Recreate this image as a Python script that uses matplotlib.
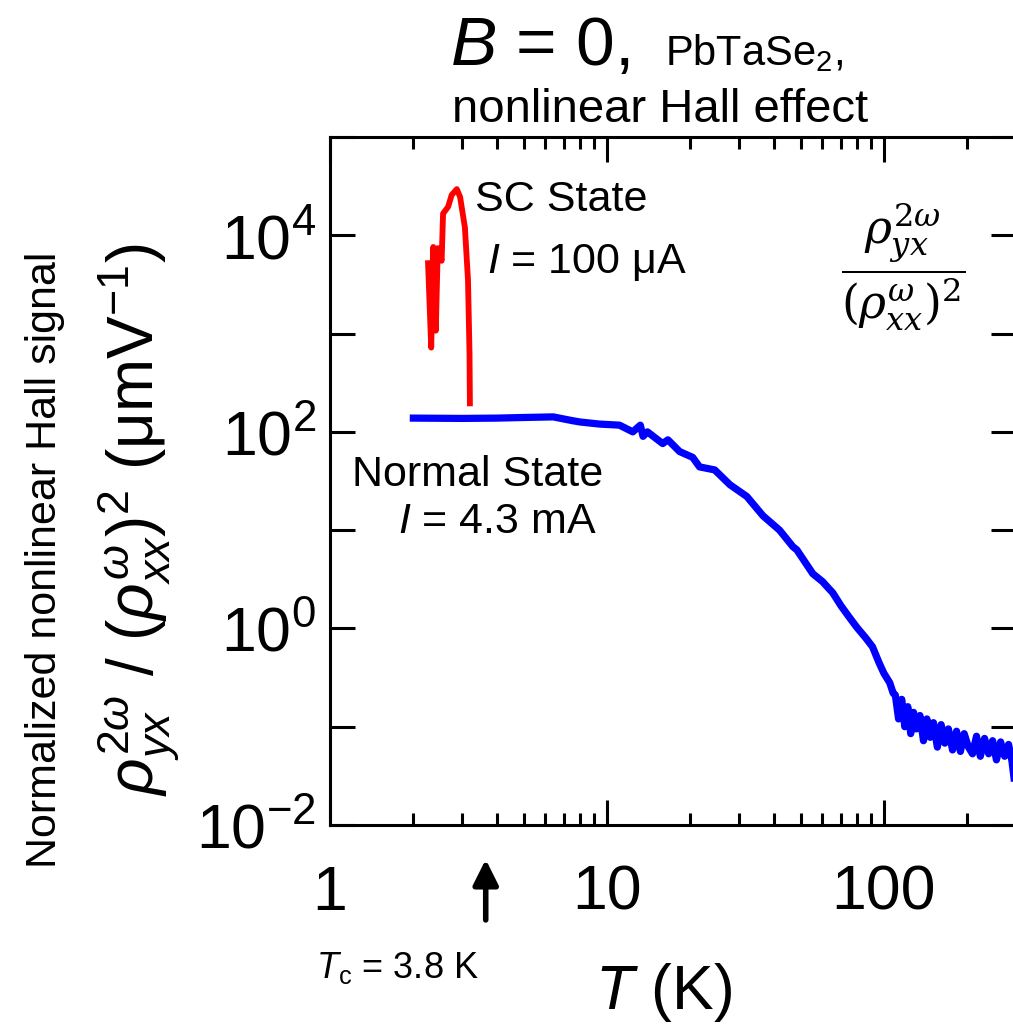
import matplotlib
matplotlib.use("Agg")
import matplotlib.pyplot as plt
import numpy as np

plt.rcParams['font.family'] = ['Liberation Sans', 'DejaVu Sans']
plt.rcParams['mathtext.fontset'] = 'custom'
plt.rcParams['mathtext.rm'] = 'Liberation Sans'
plt.rcParams['mathtext.it'] = 'Liberation Sans:italic'
plt.rcParams['mathtext.bf'] = 'Liberation Sans:bold'

# normal state, I = 4.3 mA
t_normal = [2.0, 3.0, 4.0, 5.0, 6.4, 7.5, 8.0, 9.4, 11.1, 12.4, 13.2, 13.5, 14.0,
            15.9, 16.6, 18.3, 20.4, 21.6, 24.5, 27.8, 32.0, 36.6, 42.0, 46.9,
            48.5, 55.4, 60.0, 65.4, 70.0, 75.0, 80.0, 86.0, 91.0, 96.0, 100.0,
            105.0, 108.0,
            110, 113, 116, 119, 122, 125, 128, 131, 135, 139, 143, 147, 151, 156,
            161, 166, 171, 177, 183, 189, 195, 202, 209, 216, 223, 231, 239, 247,
            255, 264, 273, 282, 290, 296, 300]
sig_normal = [138, 137, 138, 140, 142, 130, 126, 120, 117, 100, 117, 90, 100,
              76, 83, 63, 55, 44, 41, 29, 22, 14, 10, 6.8,
              6.3, 3.6, 3.0, 2.3, 1.7, 1.3, 1.02, 0.8, 0.65, 0.45, 0.35,
              0.28, 0.22,
              0.21, 0.12, 0.19, 0.10, 0.16, 0.085, 0.14, 0.095, 0.13, 0.072, 0.12,
              0.078, 0.11, 0.062, 0.105, 0.068, 0.095, 0.058, 0.09, 0.056, 0.085,
              0.062, 0.053, 0.08, 0.05, 0.076, 0.053, 0.072, 0.046, 0.07, 0.05,
              0.066, 0.045, 0.028, 0.035]

# superconducting state, I = 100 uA
t_sc = [2.26, 2.32, 2.36, 2.41, 2.45, 2.53, 2.56, 2.67, 2.75, 2.87, 2.95, 3.07,
        3.15, 3.19, 3.20]
sig_sc = [5.2e3, 7.2e2, 7.6e3, 1.07e3, 7.4e3, 5.5e3, 1.66e4, 1.95e4, 2.57e4,
          2.95e4, 2.45e4, 1.2e4, 3.5e3, 6.3e2, 1.95e2]

yticks = [1e-2, 1e-1, 1e0, 1e1, 1e2, 1e3, 1e4, 1e5]
ytick_labels = [r'$10^{-2}$', '', r'$10^{0}$', '', r'$10^{2}$', '', r'$10^{4}$', '']
xticks = [1, 10, 100]
xtick_labels = ['1', '10', '100']
xminor = [2, 3, 4, 5, 6, 7, 8, 9, 20, 30, 40, 50, 60, 70, 80, 90, 200, 300]

W, H = 1013, 1026
fig = plt.figure(figsize=(W / 100, H / 100), dpi=100)
ax = fig.add_axes([330 / W, 1 - 825 / H, 686 / W, 688 / H])

ax.plot(t_normal, sig_normal, color='#0000ff', lw=5.2, solid_joinstyle='round')
ax.plot(t_sc, sig_sc, color='#ff0000', lw=4.2, solid_joinstyle='round')

ax.set_xscale('log')
ax.set_yscale('log')
ax.set_xlim(1, 300)
ax.set_ylim(1e-2, 1e5)

ax.set_xticks(xticks)
ax.set_xticklabels(xtick_labels)
ax.set_xticks(xminor, minor=True)
ax.xaxis.set_minor_formatter(matplotlib.ticker.NullFormatter())
ax.set_yticks(yticks)
ax.set_yticklabels(ytick_labels)
ax.yaxis.set_minor_locator(matplotlib.ticker.NullLocator())

ax.tick_params(which='major', direction='in', length=18, width=2.2,
               top=True, right=True, labelsize=45)
ax.tick_params(axis='x', which='major', pad=28)
ax.tick_params(axis='y', which='major', pad=10)
ax.tick_params(which='minor', direction='in', length=8.5, width=2.2,
               top=True, right=True)
for s in ax.spines.values():
    s.set_linewidth(2.2)

# annotations inside the axes
ax.text(0.211, 0.909, 'SC State', transform=ax.transAxes, fontsize=31,
        va='center', ha='left')
ax.text(0.229, 0.818, r'$I$ = 100 μA', transform=ax.transAxes, fontsize=31,
        va='center', ha='left')
ax.text(0.032, 0.509, 'Normal State', transform=ax.transAxes, fontsize=31,
        va='center', ha='left')
ax.text(0.099, 0.440, r'$I$ = 4.3 mA', transform=ax.transAxes, fontsize=31,
        va='center', ha='left')
ax.text(0.835, 0.812, r'$\dfrac{\rho_{yx}^{2\omega}}{(\rho_{xx}^{\omega})^2}$',
        transform=ax.transAxes, fontsize=33, va='center', ha='center',
        math_fontfamily='dejavuserif')

# Tc arrow
ax.annotate('', xy=(3.65, -0.046), xycoords=('data', 'axes fraction'),
            xytext=(3.65, -0.142), textcoords=('data', 'axes fraction'),
            annotation_clip=False,
            arrowprops=dict(arrowstyle='-|>', lw=4, color='k', mutation_scale=38))
fig.text(316 / W, 1 - 968 / H, r'$T_{\rm c}$ = 3.8 K', fontsize=26,
         va='center', ha='left')

# axis labels
fig.text(663 / W, 1 - 993 / H, r'$T$ (K)', fontsize=45, va='center', ha='center')
fig.text(138 / W, 1 - 520 / H,
         r'$\rho_{yx}^{2\omega}$ / $(\rho_{xx}^{\omega})^2$ (μmV$^{-1}$)',
         fontsize=46, rotation=90, va='center', ha='center')
fig.text(45 / W, 1 - 560 / H, 'Normalized nonlinear Hall signal', fontsize=31,
         rotation=90, va='center', ha='center')

# title
fig.text(450 / W, 1 - 65 / H, r'$B$ = 0,', fontsize=50, va='baseline', ha='left')
fig.text(665 / W, 1 - 65 / H, r'PbTaSe$_2$,', fontsize=30, va='baseline', ha='left')
fig.text(660 / W, 1 - 110 / H, 'nonlinear Hall effect', fontsize=34,
         va='center', ha='center')

fig.savefig('out.png', dpi=100)
